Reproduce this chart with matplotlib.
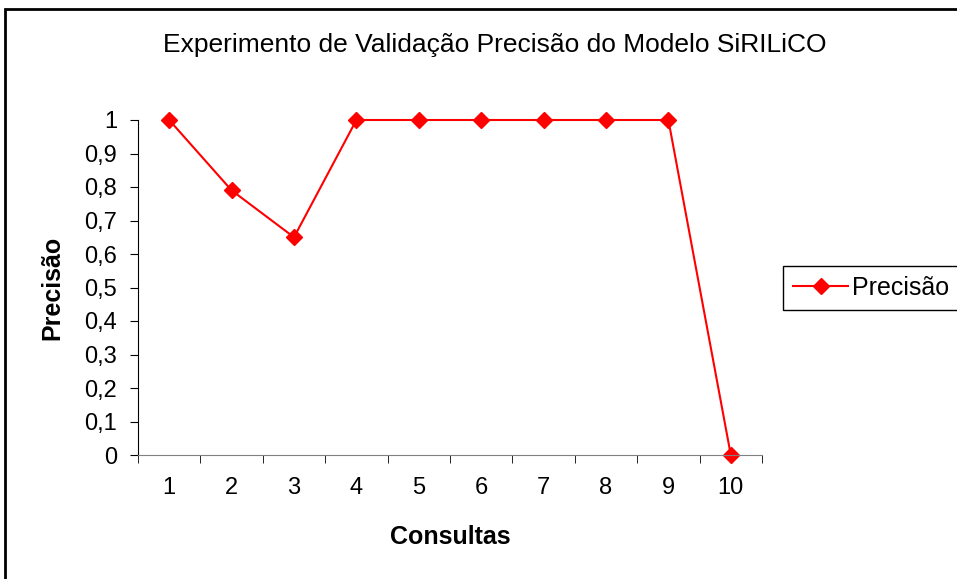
import matplotlib.pyplot as plt
from matplotlib.patches import Rectangle

plt.rcParams['font.family'] = ['Liberation Sans', 'DejaVu Sans']

consultas = [1, 2, 3, 4, 5, 6, 7, 8, 9, 10]
precisao = [1, 0.79, 0.65, 1, 1, 1, 1, 1, 1, 0]
y_ticks = [0, 0.1, 0.2, 0.3, 0.4, 0.5, 0.6, 0.7, 0.8, 0.9, 1]
y_labels = ["0", "0,1", "0,2", "0,3", "0,4", "0,5", "0,6", "0,7", "0,8", "0,9", "1"]

fig = plt.figure(figsize=(9.57, 5.79), dpi=100)
ax = fig.add_axes([138 / 957, 1 - 455 / 579, 624 / 957, 335 / 579])

ax.plot(consultas, precisao, color="red", lw=1.5, marker="D", markersize=8,
        label="Precisão", clip_on=False)

ax.set_xlim(0.5, 10.5)
ax.set_ylim(0, 1)
ax.set_yticks(y_ticks)
ax.set_yticklabels(y_labels)
ax.set_xticks(consultas)
ax.set_xticks([x + 0.5 for x in range(0, 11)], minor=True)
ax.tick_params(axis="x", which="major", length=0, pad=16, labelsize=17)
ax.tick_params(axis="x", which="minor", length=6, direction="out", color="black")
ax.tick_params(axis="y", length=6, direction="out", labelsize=17, pad=9)

for s in ("top", "right"):
    ax.spines[s].set_visible(False)
ax.spines["left"].set_color("black")
ax.spines["bottom"].set_color("#808080")

ax.set_xlabel("Consultas", fontsize=18, fontweight="bold", va="center")
ax.xaxis.set_label_coords(0.5, -0.245)
ax.set_ylabel("Precisão", fontsize=18, fontweight="bold", va="center")
ax.yaxis.set_label_coords(-0.137, 0.5)
fig.text(495 / 957, 1 - 45 / 579, "Experimento de Validação Precisão do Modelo SiRILiCO",
         ha="center", va="center", fontsize=19)

leg = fig.legend(loc="upper left", bbox_to_anchor=(783 / 957, 1 - 266 / 579),
                 fontsize=18, fancybox=False, edgecolor="black", framealpha=1,
                 handlelength=2.2, borderpad=0.4, handletextpad=0.15,
                 borderaxespad=0)
leg.get_frame().set_linewidth(1)

fig.patches.append(Rectangle((5 / 957, -0.01), 1.02, 1 - 9 / 579 + 0.01,
                             transform=fig.transFigure, fill=False,
                             edgecolor="black", lw=2))

fig.savefig("out.png", dpi=100)
